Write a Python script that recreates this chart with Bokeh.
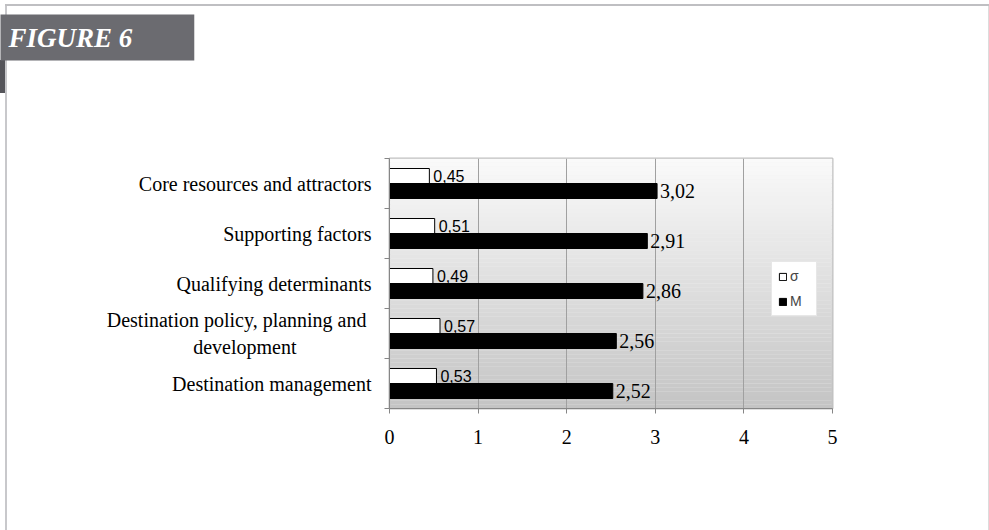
from bokeh.plotting import figure
from bokeh.models import (FixedTicker, Title, Legend, LegendItem, ColumnDataSource)
from bokeh.core.properties import value
from bokeh.embed import file_html
from bokeh.resources import INLINE

NBSP = "\u00a0"

# Categories listed from top to bottom
categories = [
    "Core resources and attractors",
    "Supporting factors",
    "Qualifying determinants",
    "Destination policy, planning and" + NBSP + "\ndevelopment" + NBSP * 15,
    "Destination management",
]
sigma = [0.45, 0.51, 0.49, 0.57, 0.53]
mean_vals = [3.02, 2.91, 2.86, 2.56, 2.52]
x_ticks = [0, 1, 2, 3, 4, 5]

n = len(categories)
# each category occupies two y units; centres at odd numbers, counted from the bottom
centers = [2 * (n - 1 - i) + 1 for i in range(n)]
bounds = list(range(0, 2 * n + 1, 2))

def fmt(v):
    return f"{v:.2f}".replace(".", ",")

src = ColumnDataSource(dict(
    cat=categories,
    y_sig=[c + 0.3 for c in centers],
    y_m=[c - 0.3 for c in centers],
    sigma=sigma,
    mean=mean_vals,
    sig_lbl=[fmt(v) for v in sigma],
    m_lbl=[fmt(v) for v in mean_vals],
))

W, H = 989, 530
FL, FR, FT, FB = 389, 832, 158, 408
X0, X1 = 0, 5
Y0, Y1 = 0, 2 * n

p = figure(width=W, height=H, output_backend="svg", toolbar_location=None,
           x_range=(X0, X1), y_range=(Y0, Y1),
           min_border_left=FL, min_border_right=W - FR,
           min_border_top=FT, min_border_bottom=H - FB,
           background_fill_color="#f0f0f0",
           border_fill_color="white", border_fill_alpha=0)
p.frame_width = FR - FL
p.frame_height = FB - FT
p.outline_line_color = "#c0c0c0"
p.outline_line_width = 2

# thin grey page rules (top, left, right) and the banner fold, painted behind the canvas
p.styles = {
    "background-color": "white",
    "background-image": ("linear-gradient(#bfbfc2, #bfbfc2), "
                         "linear-gradient(#c8c8cb, #c8c8cb), "
                         "linear-gradient(#dcdcdc, #dcdcdc), "
                         "linear-gradient(#55555a, #55555a)"),
    "background-position": "5px 4px, 5px 4px, 988px 4px, 0px 60px",
    "background-size": "984px 2px, 2px 540px, 1px 540px, 7px 33px",
    "background-repeat": "no-repeat",
}

# vertical gradient in the plot area, light at the top, grey at the bottom
steps = 60
tops, bots, cols = [], [], []
for k in range(steps):
    b = Y1 * k / steps
    t = Y1 * (k + 1) / steps
    frac = (k + 0.5) / steps  # 0 bottom -> 1 top
    g = int(round(0xc4 + (0xfa - 0xc4) * frac))
    tops.append(t)
    bots.append(b)
    cols.append(f"#{g:02x}{g:02x}{g:02x}")
p.quad(left=X0, right=X1, bottom=bots, top=tops, fill_color=cols, line_color=None,
       level="image")

# bars
r_sig = p.hbar(y="y_sig", right="sigma", left=0, height=0.6, source=src,
               fill_color="white", line_color="black", line_width=1)
r_m = p.hbar(y="y_m", right="mean", left=0, height=0.6, source=src,
             fill_color="black", line_color="black", line_width=1)

# value labels
p.text(x="sigma", y="y_sig", text="sig_lbl", source=src, x_offset=4,
       text_baseline="middle", text_align="left",
       text_font=value("Liberation Sans"), text_font_size="16px", text_color="black")
p.text(x="mean", y="y_m", text="m_lbl", source=src, x_offset=3,
       text_baseline="middle", text_align="left",
       text_font=value("Liberation Serif"), text_font_size="20px", text_color="black")

# grid
p.ygrid.visible = False
p.xgrid.ticker = FixedTicker(ticks=x_ticks[1:-1])
p.xgrid.grid_line_color = "#a0a0a0"
p.xgrid.grid_line_width = 1

# x axis
xa = p.xaxis[0]
xa.ticker = FixedTicker(ticks=x_ticks)
xa.axis_line_color = "#868686"
xa.major_tick_line_color = "#868686"
xa.major_tick_out = 5
xa.major_tick_in = 0
xa.minor_tick_line_color = None
xa.major_label_standoff = 16
xa.major_label_text_font = "Liberation Serif"
xa.major_label_text_font_size = "20px"
xa.major_label_text_color = "black"

# y axis: labels at category centres, tick marks at category boundaries
ya = p.yaxis[0]
ya.ticker = FixedTicker(ticks=centers, minor_ticks=bounds)
ya.major_label_overrides = {c: lbl for c, lbl in zip(centers, categories)}
ya.axis_line_color = "#868686"
ya.major_tick_out = 0
ya.major_tick_in = 0
ya.minor_tick_line_color = "#868686"
ya.minor_tick_out = 5
ya.minor_tick_in = 0
ya.major_label_standoff = 13
ya.major_label_text_font = "Liberation Serif"
ya.major_label_text_font_size = "20px"
ya.major_label_text_color = "black"

# legend
legend = Legend(items=[LegendItem(label="σ", renderers=[r_sig]),
                       LegendItem(label="M", renderers=[r_m])],
                location=(382, 92))
legend.glyph_width = 9
legend.glyph_height = 9
legend.label_standoff = 3
legend.padding = 6
legend.margin = 0
legend.spacing = 9
legend.label_height = 12
legend.label_text_font = "Liberation Sans"
legend.label_text_font_size = "14px"
legend.border_line_color = "#d0d0d0"
legend.background_fill_color = "white"
legend.background_fill_alpha = 1
p.add_layout(legend)

# empty spacer panel between the plot and the heading banner
spacer = Title(text=NBSP, text_font_size="10px", standoff=85)
p.add_layout(spacer, "above")

# heading banner
heading = Title(text="FIGURE 6" + NBSP * 8, align="left", offset=-FL,
                standoff=0, text_font="Liberation Serif",
                text_font_style="bold italic", text_font_size="27px",
                text_color="white", background_fill_color="#6b6b70",
                background_fill_alpha=1, padding=8)
p.add_layout(heading, "above")

open("out.html", "w").write(file_html(p, INLINE))
